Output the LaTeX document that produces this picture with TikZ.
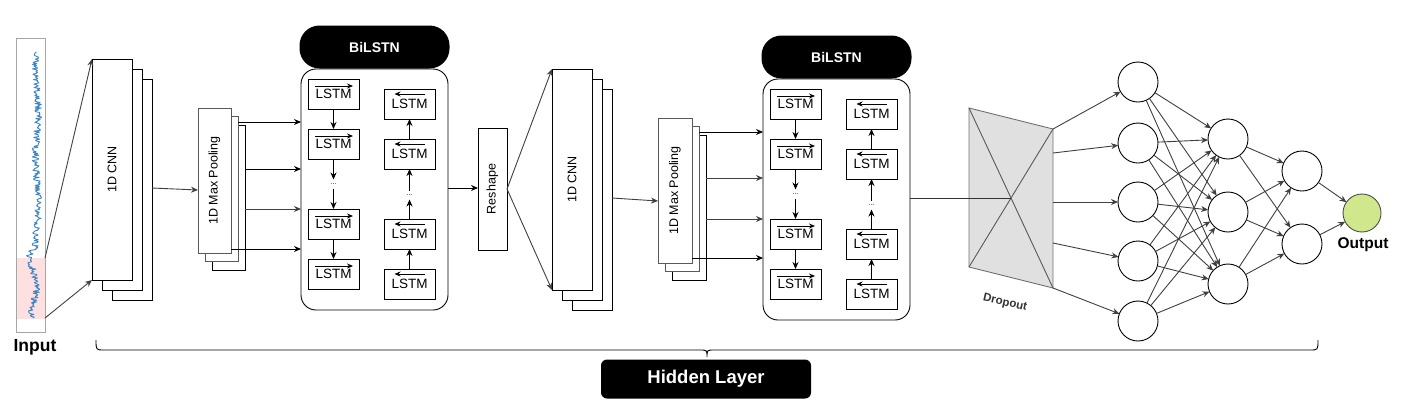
\documentclass[tikz,border=0pt]{standalone}
\usepackage{fontspec}
\setmainfont{Liberation Sans}
\usetikzlibrary{arrows.meta,calc}
\newcommand{\setfs}[1]{\fontsize{#1}{#1}\selectfont}
\tikzset{
  lw/.style={line width=0.9pt},
  box/.style={draw=black, fill=white, line width=0.9pt, inner sep=0pt, outer sep=0pt},
  gbox/.style={box, draw=black!65},
  arr/.style={-{Stealth[length=7pt,width=6pt]}, line width=0.9pt},
  garr/.style={arr, draw=black!75},
  tiparr/.style={-{Stealth[length=6pt,width=5pt]}, line width=0.8pt},
  rot/.style={rotate=90, font=\setfs{12.5}},
  bbox/.style={draw=black, fill=white, line width=0.9pt, rounded corners=15pt, minimum width=147pt, minimum height=241pt, inner sep=0pt, outer sep=0pt},
  pill/.style={fill=black, rounded corners=20pt, minimum width=150pt, minimum height=43pt, text=white, font=\bfseries\setfs{14}, inner sep=0pt},
  lstm/.style={draw=black, fill=white, line width=0.9pt, minimum width=51pt, minimum height=30pt, inner sep=0pt, outer sep=0pt, font=\setfs{13.5}, text depth=0pt, text height=9pt},
  dots/.style={inner sep=0pt, outer sep=0pt, minimum height=9pt, minimum width=8pt, font=\setfs{7}},
  neuron/.style={circle, draw=black, fill=white, line width=0.9pt, minimum size=40pt, inner sep=0pt, outer sep=0pt},
  nnarr/.style={-{Stealth[length=7pt,width=6pt]}, line width=0.9pt, draw=black!75},
}
\newcommand{\bilstmblock}[3]{%
  \begin{scope}[shift={(#2,#3)}]
    \node[bbox] (#1box) at (73.5,120.5) {};
    \node[pill] (#1pill) at (73.5,-22) {BiLSTN};
    \foreach \n/\yy in {1/25,2/75,3/155,4/205}{
      \node[lstm] (#1f\n) at (32.5,\yy) {LSTM};
      \draw[tiparr] ($(#1f\n.center)+(-18.5,-8)$) -- ++(38,0);
    }
    \foreach \n/\yy in {1/35,2/85,3/165,4/215}{
      \node[lstm] (#1b\n) at (108.5,\yy) {LSTM};
      \draw[tiparr] ($(#1b\n.center)+(15,-10)$) -- ++(-30,0);
    }
    \node[dots] (#1fd) at (32.5,115) {...};
    \node[dots] (#1bd) at (108.5,126) {...};
    \draw[arr] (#1f1) -- (#1f2);
    \draw[arr] (#1f2) -- (#1fd);
    \draw[arr] (#1fd) -- (#1f3);
    \draw[arr] (#1f3) -- (#1f4);
    \draw[arr] (#1b4) -- (#1b3);
    \draw[arr] (#1b3) -- (#1bd);
    \draw[arr] (#1bd) -- (#1b2);
    \draw[arr] (#1b2) -- (#1b1);
  \end{scope}}
\begin{document}
\begin{tikzpicture}[x=1pt,y=-1pt]
\useasboundingbox (0,0) rectangle (1412,400);

% ---------- Input ----------
\node[draw=black!35, fill=white, line width=0.9pt, minimum width=29pt, minimum height=294pt, inner sep=0pt, outer sep=0pt] (inbox) at (30.5,185) {};
\fill[red!12] (16.5,258) rectangle (44.5,319);
\pgfmathsetseed{11}
\draw[line width=0.9pt, draw={rgb,255:red,61;green,133;blue,198}, line join=round]
  plot[domain=52:318, samples=300, variable=\t] ({37 + 1.5*sin(\t*4) - 4*(\t>250)*(1+0.5*sin(\t*6)) + 3.5*rand}, \t);
\node[font=\bfseries\setfs{17.5}] (inlabel) at (35,347) {Input};
\coordinate (in1) at (45,258);
\coordinate (in2) at (45,318);

% ---------- 1D CNN (1) ----------
\node[box, minimum width=40pt, minimum height=221pt] (cnn1c) at (132,189.5) {};
\node[box, minimum width=40pt, minimum height=221pt] (cnn1b) at (122,179.5) {};
\node[box, minimum width=40pt, minimum height=221pt] (cnn1) at (112,169.5) {};
\node[rot] (cnn1t) at (112,169.5) {1D CNN};
\draw[garr] (in1) -- (cnn1.north west);
\draw[garr] (in2) -- (cnn1.south west);

% ---------- Max Pooling (1) ----------
\node[box, minimum width=33pt, minimum height=145pt] (mp1c) at (228.5,197.5) {};
\node[gbox, minimum width=33pt, minimum height=145pt] (mp1b) at (221.5,189) {};
\node[gbox, minimum width=33pt, minimum height=145pt] (mp1) at (214.5,180.5) {};
\node[rot] (mp1t) at (214.5,180.5) {1D Max Pooling};
\draw[garr] (cnn1c.east |- 0,188) -- (mp1.west |- 0,190);

% ---------- BiLSTM (1) ----------
\bilstmblock{bl}{301}{69}
\draw[arr] (mp1b.east |- 0,122) -- (blbox.west |- 0,122);
\draw[arr] (mp1c.east |- 0,169) -- (blbox.west |- 0,169);
\draw[garr] (mp1c.east |- 0,209) -- (blbox.west |- 0,209);
\draw[arr] (mp1.east |- 0,249) -- (blbox.west |- 0,249);

% ---------- Reshape ----------
\node[box, minimum width=29pt, minimum height=122pt] (reshape) at (492.5,189) {};
\node[rot, font=\setfs{12.5}] (reshapet) at (492.5,189) {Reshape};
\draw[arr] (blbox.east |- 0,188) -- (reshape.west |- 0,188);

% ---------- 1D CNN (2) ----------
\node[box, minimum width=40pt, minimum height=221pt] (cnn2c) at (592,199.5) {};
\node[box, minimum width=40pt, minimum height=221pt] (cnn2b) at (582,189.5) {};
\node[box, minimum width=40pt, minimum height=221pt] (cnn2) at (572,179.5) {};
\node[rot] (cnn2t) at (572,179.5) {1D CNN};
\draw[garr] (reshape.east) -- (cnn2.north west);
\draw[garr] (reshape.east) -- (cnn2.south west);

% ---------- Max Pooling (2) ----------
\node[box, minimum width=34pt, minimum height=145pt] (mp2c) at (689,207.5) {};
\node[gbox, minimum width=34pt, minimum height=145pt] (mp2b) at (682,199) {};
\node[gbox, minimum width=34pt, minimum height=145pt] (mp2) at (675,190.5) {};
\node[rot] (mp2t) at (675,190.5) {1D Max Pooling};
\draw[garr] (cnn2c.east |- 0,198) -- (mp2.west |- 0,201);

% ---------- BiLSTM (2) ----------
\bilstmblock{br}{763}{79}
\draw[arr] (mp2b.east |- 0,132) -- (brbox.west |- 0,132);
\draw[garr] (mp2c.east |- 0,178) -- (brbox.west |- 0,178);
\draw[garr] (mp2c.east |- 0,219) -- (brbox.west |- 0,219);
\draw[arr] (mp2.east |- 0,258) -- (brbox.west |- 0,258);

% ---------- Dropout ----------
\coordinate (d1) at (969,108);
\coordinate (d2) at (1053,129);
\coordinate (d3) at (1053,288);
\coordinate (d4) at (969,267);
\coordinate (dc) at (1011,198);
\filldraw[fill=black!12, draw=black!55, line width=0.9pt] (d1) -- (d2) -- (d3) -- (d4) -- cycle;
\draw[draw=black!65, line width=0.9pt] (d1) -- (d3) (d2) -- (d4);
\draw[draw=black!80, line width=0.9pt] (brbox.east |- dc) -- (dc);
\node[font=\bfseries\setfs{11.5}, text=black!80, rotate=-13, inner sep=0pt] (droplabel) at (1005,303) {Dropout};

% ---------- Dense network ----------
\foreach \i/\yy in {1/82,2/143,3/202,4/261,5/321}{\node[neuron] (n\i) at (1138,\yy) {};}
\foreach \i/\yy in {1/139,2/212,3/284}{\node[neuron] (h\i) at (1228,\yy) {};}
\foreach \i/\yy in {1/171,2/244}{\node[neuron] (g\i) at (1302,\yy) {};}
\node[circle, draw=black!70, fill={rgb,255:red,208;green,232;blue,139}, line width=0.9pt, minimum size=38pt, inner sep=0pt, outer sep=0pt] (out) at (1362,213) {};
\node[font=\bfseries\setfs{15.5}] (outlabel) at (1363,245) {Output};
\coordinate (dp1) at (1053,129);
\coordinate (dp2) at (1053,153);
\coordinate (dp3) at (1053,202);
\coordinate (dp4) at (1053,243);
\coordinate (dp5) at (1053,288);
\foreach \i in {1,...,5}{\draw[nnarr] (dp\i) -- (n\i);}
\foreach \i in {1,...,5}{\foreach \j in {1,2,3}{\draw[nnarr] (n\i) -- (h\j);}}
\foreach \j in {1,2,3}{\foreach \k in {1,2}{\draw[nnarr] (h\j) -- (g\k);}}
\foreach \k in {1,2}{\draw[nnarr] (g\k) -- (out);}

% ---------- Hidden layer brace ----------
\coordinate (bl0) at (96,340);
\coordinate (bmid) at (707,357);
\coordinate (br0) at (1318,340);
\draw[line width=0.9pt] (bl0) .. controls (96,350) .. (104,350) -- (700,350)
   .. controls (707,350) .. (bmid) .. controls (707,350) .. (714,350) -- (1310,350)
   .. controls (1318,350) .. (br0);
\node[fill=black, rounded corners=6pt, minimum width=210pt, minimum height=39pt, inner sep=0pt, text=white, font=\bfseries\setfs{18.5}] (hidden) at (706,379) {Hidden Layer};
\end{tikzpicture}
\end{document}
